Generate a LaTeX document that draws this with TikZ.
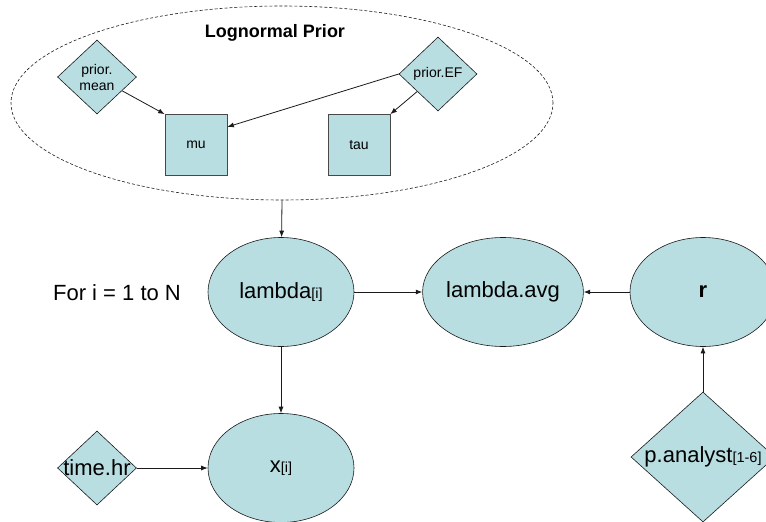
\documentclass[tikz,border=0pt]{standalone}
\usepackage{fontspec}
\setmainfont{Liberation Sans}
\usetikzlibrary{arrows.meta, shapes.geometric}
\definecolor{nodefill}{HTML}{B8DEE2}
\definecolor{ink}{HTML}{1A1A1A}
\newcommand{\idx}[1]{{\fontsize{14.5}{16}\selectfont[#1]}}

\begin{document}
\begin{tikzpicture}[
    x=1pt, y=-1pt,
    >={Latex[length=6.5pt,width=5pt]},
    arr/.style={->, line width=0.8pt, ink},
    % Stochastic node (ellipse)
    stoch/.style={ellipse, draw=ink, line width=0.6pt, fill=nodefill,
                  minimum width=146pt, minimum height=109pt, inner sep=0pt,
                  font=\fontsize{22}{24}\selectfont},
    % Constant node (diamond)
    const/.style={diamond, draw=ink, line width=0.6pt, fill=nodefill, inner sep=0pt},
    % Logical node (square)
    logic/.style={rectangle, draw=ink!80, line width=0.7pt, fill=nodefill,
                  minimum width=62pt, minimum height=61pt, inner sep=0pt,
                  font=\fontsize{14}{16}\selectfont},
    small/.style={font=\fontsize{14}{16}\selectfont, align=center},
    big/.style={font=\fontsize{22}{24}\selectfont}
]

\useasboundingbox (0,0) rectangle (766,522);
\clip (0,0) rectangle (766,522);

% ---------- Prior plate ----------
\node[ellipse, draw=ink, dashed, dash pattern=on 3pt off 2pt, line width=0.6pt,
      minimum width=542pt, minimum height=194pt] (prior) at (282,103) {};
\node[font=\fontsize{18}{20}\selectfont\bfseries] (title) at (275,33) {Lognormal Prior};

\node[const, minimum width=79pt, minimum height=74pt,
      label={[small, inner sep=0pt]center:prior.\\mean}] (pmean) at (97,77) {};
\node[const, minimum width=78pt, minimum height=74pt,
      label={[small, inner sep=0pt]center:prior.EF}] (pef) at (438,74) {};
\node[logic] (mu) at (196,145) {mu};
\node[logic] (tau) at (359,145) {tau};

\draw[arr] (pmean) -- (mu.north west);
\draw[arr] (pef.west) -- (mu.30);
\draw[arr] (pef) -- (tau.north east);

% ---------- Model ----------
\node[big] (loop) at (117,293) {For i = 1 to N};
\node[stoch] (lambda) at (281,292) {lambda\idx{i}};
\node[stoch] (avg) at (503,292) {lambda.avg};
\node[stoch] (r) at (703,292) {\textbf{r}};
\node[stoch] (x) at (281,468) {x\idx{i}};
\node[const, minimum width=79pt, minimum height=74pt,
      label={[big, inner sep=0pt]center:time.hr}] (time) at (97,468) {};
\node[const, minimum width=144pt, minimum height=130pt,
      label={[big, inner sep=0pt]center:p.analyst\idx{1-6}}] (pan) at (703,457) {};

\draw[arr] (prior.south) -- (lambda);
\draw[arr] (lambda) -- (avg);
\draw[arr] (r) -- (avg);
\draw[arr] (pan) -- (r);
\draw[arr] (lambda) -- (x);
\draw[arr] (time) -- (x);

\end{tikzpicture}
\end{document}
